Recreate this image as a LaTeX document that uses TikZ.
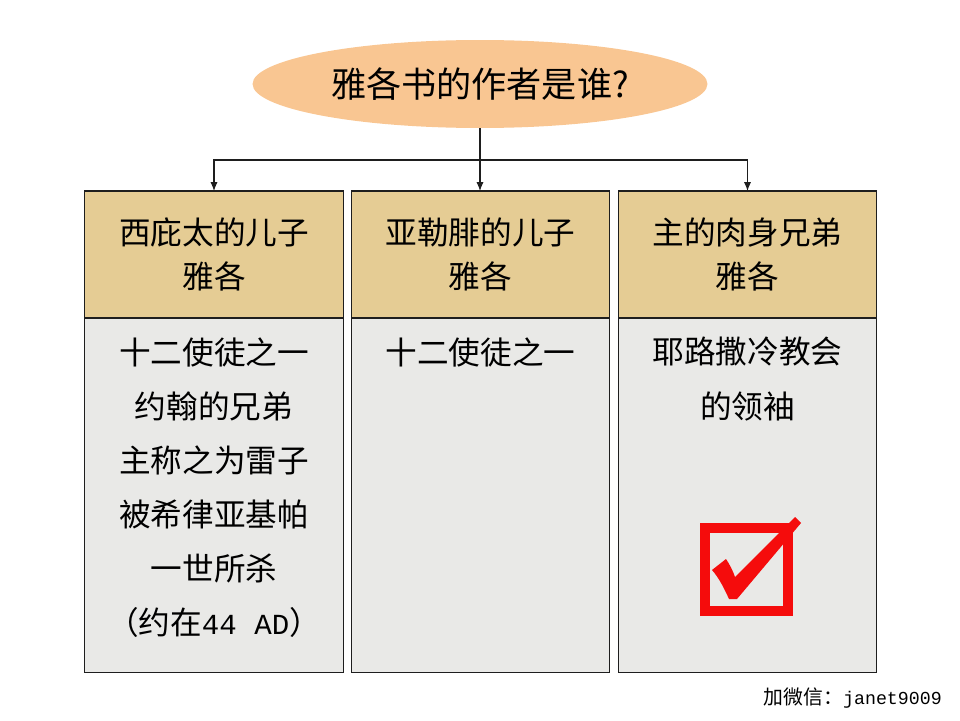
\documentclass[tikz,border=0pt]{standalone}
\usepackage{fontspec}
\setmainfont{Noto Sans CJK SC}
\setmonofont{Liberation Mono}[Scale=0.92]
\usetikzlibrary{arrows.meta,positioning,shapes.geometric}
\definecolor{figline}{RGB}{30,30,30}
\definecolor{figpeach}{RGB}{249,198,146}
\definecolor{figtan}{RGB}{229,204,148}
\definecolor{figgrey}{RGB}{233,233,231}
\definecolor{figred}{RGB}{245,12,12}
\tikzset{
  quest/.style ={ellipse, fill=figpeach, minimum width=9.1cm, minimum height=1.76cm, inner sep=0pt, font=\fontsize{20}{24}\selectfont},
  head/.style  ={draw=figline, line width=0.6pt, fill=figtan, minimum width=5.17cm, minimum height=2.54cm, outer sep=0pt, align=center, font=\fontsize{18}{25}\selectfont},
  body/.style  ={draw=figline, line width=0.6pt, fill=figgrey, minimum width=5.17cm, minimum height=7.1cm, outer sep=0pt},
  btxt/.style  ={align=center, inner sep=0pt, font=\fontsize{18}{30.8}\selectfont},
  ptr/.style   ={draw=figline, line width=0.6pt, -{Latex[length=5pt,width=4pt]}},
}

\begin{document}
\begin{tikzpicture}[x=0.02cm,y=-0.02cm]
  \useasboundingbox (0,0) rectangle (960,720);
  % question
  \node[quest] (q) at (480,84) {雅各书的作者是谁?};
  % three candidates
  \node[head] (h1) at (214,254.5) {西庇太的儿子\\雅各};
  \node[head] (h2) at (480.5,254.5) {亚勒腓的儿子\\雅各};
  \node[head] (h3) at (747.5,254.5) {主的肉身兄弟\\雅各};
  \node[body, below=0pt of h1] (b1) {};
  \node[body, below=0pt of h2] (b2) {};
  \node[body, below=0pt of h3] (b3) {};
  \node[btxt, below=0.38cm of b1.north] (t1) {十二使徒之一\\约翰的兄弟\\主称之为雷子\\被希律亚基帕\\一世所杀\\（约在\texttt{44 AD}）};
  \node[btxt, below=0.38cm of b2.north] (t2) {十二使徒之一};
  \node[btxt, below=0.38cm of b3.north] (t3) {耶路撒冷教会\\的领袖};
  % connectors
  \coordinate (bus) at (480,160);
  \draw[ptr] (q.south) -- (q.south |- h2.north);
  \draw[ptr] (bus) -| (h1.north);
  \draw[ptr] (bus) -| (h3.north);
  % check box
  \draw[figred, line width=0.2cm] (705,528) rectangle (788,611);
  \fill[figred] (712,570) -- (726,559) .. controls (730,565) and (733,571) .. (735,577)
    -- (795,517) -- (801,523) -- (737,599) -- (729,599)
    .. controls (724,588) and (719,578) .. (712,570) -- cycle;
  % note
  \node[anchor=east, font=\fontsize{11.3}{13}\selectfont] (note) at (948,698) {加微信：\texttt{janet9009}};
\end{tikzpicture}
\end{document}
